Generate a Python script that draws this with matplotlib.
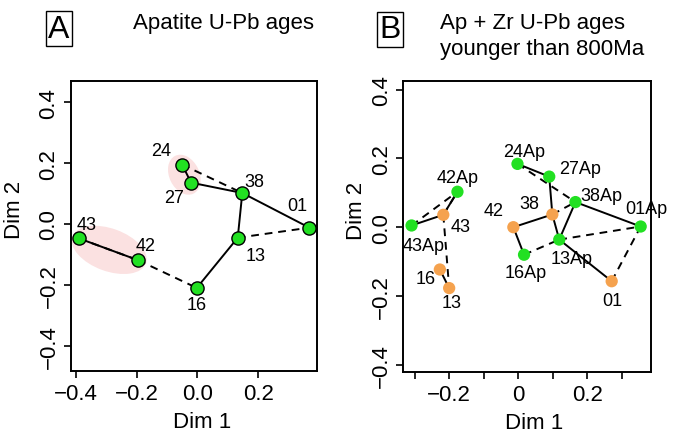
import matplotlib
matplotlib.use('Agg')
import matplotlib.pyplot as plt
from matplotlib.patches import Ellipse

plt.rcParams.update({'font.family': ['Liberation Sans', 'DejaVu Sans'], 'font.size': 14})

# --- Panel A: apatite MDS configuration ---
a_names = ['43', '42', '16', '13', '01', '38', '27', '24']
a_x = [-0.391, -0.195, -0.002, 0.133, 0.369, 0.148, -0.021, -0.050]
a_y = [-0.047, -0.119, -0.210, -0.045, -0.012, 0.102, 0.136, 0.195]
a_solid = [('43', '42'), ('16', '13'), ('13', '38'), ('38', '01'), ('27', '38'), ('24', '27')]
a_dashed = [('43', '42'), ('42', '16'), ('13', '01'), ('24', '38')]
# cluster ellipses: centre x, centre y, major, minor, angle
a_clusters = [(-0.043, 0.162, 0.138, 0.099, -64), (-0.2905, -0.085, 0.258, 0.140, -20)]

# --- Panel B: apatite + zircon MDS configuration ---
b_names = ['24Ap', '27Ap', '38Ap', '01Ap', '13Ap', '16Ap', '42Ap', '43Ap',
           '43', '16', '13', '42', '38', '01']
b_x = [-0.002, 0.090, 0.166, 0.355, 0.119, 0.017, -0.176, -0.309,
       -0.217, -0.227, -0.200, -0.014, 0.099, 0.271]
b_y = [0.184, 0.147, 0.073, 0.002, -0.036, -0.080, 0.103, 0.005,
       0.036, -0.123, -0.177, 0.000, 0.037, -0.157]
b_solid = [('24Ap', '27Ap'), ('27Ap', '38'), ('38Ap', '01Ap'), ('38Ap', '13Ap'),
           ('38', '42'), ('38', '13Ap'), ('42', '16Ap'), ('13Ap', '01'),
           ('43Ap', '43'), ('43', '42Ap'), ('16', '13')]
b_dashed = [('24Ap', '38Ap'), ('38', '38Ap'), ('16Ap', '13Ap'), ('13Ap', '01Ap'),
            ('01', '01Ap'), ('43Ap', '42Ap'), ('43', '42Ap'), ('43', '13')]

# label offsets in pixels (right, up)
a_off = {'43': (8, 14), '42': (7, 15), '16': (0, -17), '13': (18, -18),
         '01': (-12, 22), '38': (12, 11), '27': (-17, -15), '24': (-21, 14)}
b_off = {'24Ap': (7, 12), '27Ap': (31, 8), '38Ap': (26, 7), '01Ap': (6, 18),
         '13Ap': (12, -19), '16Ap': (2, -18), '42Ap': (0, 14), '43Ap': (12, -20),
         '43': (17, -12), '16': (-14, -9), '13': (2, -14), '42': (-20, 17),
         '38': (-23, 11), '01': (1, -19)}

GREEN = '#22e022'
ORANGE = '#f5a24e'

fig = plt.figure(figsize=(6.78, 4.35), dpi=100)
axA = fig.add_axes([0.1043, 0.1455, 0.3627, 0.666])
axB = fig.add_axes([0.5948, 0.1432, 0.3649, 0.6676])


def style(ax):
    for s in ax.spines.values():
        s.set_linewidth(1.4)
    ax.tick_params(length=5, width=1.2, labelsize=16)
    ax.tick_params(axis='x', pad=4)
    ax.tick_params(axis='y', pad=3)
    for lab in ax.get_yticklabels():
        lab.set_rotation(90)
        lab.set_va('center')
    ax.set_xlabel('Dim 1', fontsize=16)
    ax.set_ylabel('Dim 2', fontsize=16)


def draw_edges(ax, names, xs, ys, solid, dashed):
    idx = {n: i for i, n in enumerate(names)}
    for a, b in solid:
        ax.plot([xs[idx[a]], xs[idx[b]]], [ys[idx[a]], ys[idx[b]]], color='black', lw=1.4, zorder=2)
    for a, b in dashed:
        ax.plot([xs[idx[a]], xs[idx[b]]], [ys[idx[a]], ys[idx[b]]], color='black', lw=1.4,
                ls=(0, (4, 3)), zorder=2)


# ---- A ----
for cx, cy, w, h, ang in a_clusters:
    axA.add_patch(Ellipse((cx, cy), w, h, angle=ang, facecolor='#fbe1e1', edgecolor='none', zorder=1))
draw_edges(axA, a_names, a_x, a_y, a_solid, a_dashed)
axA.scatter(a_x, a_y, s=90, c=GREEN, edgecolors='black', linewidths=1.0, zorder=3)
for n, x, y in zip(a_names, a_x, a_y):
    axA.annotate(n, (x, y), xytext=a_off[n], textcoords='offset pixels',
                 ha='center', va='center', fontsize=13)
axA.set_xlim(-0.4175, 0.393)
axA.set_ylim(-0.482, 0.47)
axA.set_xticks([-0.4, -0.2, 0.0, 0.2])
axA.set_xticklabels(['\u22120.4', '\u22120.2', '0.0', '0.2'])
axA.set_yticks([-0.4, -0.2, 0.0, 0.2, 0.4])
axA.set_yticklabels(['\u22120.4', '\u22120.2', '0.0', '0.2', '0.4'])
style(axA)
axA.xaxis.set_label_coords(0.533, -0.14)
axA.yaxis.set_label_coords(-0.185, 0.558)

# ---- B ----
draw_edges(axB, b_names, b_x, b_y, b_solid, b_dashed)
cols = [GREEN if n.endswith('Ap') else ORANGE for n in b_names]
axB.scatter(b_x, b_y, s=78, c=cols, edgecolors='none', zorder=3)
for n, x, y in zip(b_names, b_x, b_y):
    axB.annotate(n, (x, y), xytext=b_off[n], textcoords='offset pixels',
                 ha='center', va='center', fontsize=13)
axB.set_xlim(-0.333, 0.384)
axB.set_ylim(-0.42, 0.424)
axB.set_xticks([-0.3, -0.2, -0.1, 0.0, 0.1, 0.2, 0.3])
axB.set_xticklabels(['', '\u22120.2', '', '0', '', '0.2', ''])
axB.set_yticks([-0.4, -0.2, 0.0, 0.2, 0.4])
axB.set_yticklabels(['\u22120.4', '\u22120.2', '0.0', '0.2', '0.4'])
style(axB)
axB.xaxis.set_label_coords(0.53, -0.14)
axB.yaxis.set_label_coords(-0.145, 0.558)

# ---- panel letters and titles ----
box = dict(boxstyle='square,pad=0.08', facecolor='white', edgecolor='black', linewidth=1.0)
fig.text(59 / 678, 1 - 29.5 / 435, 'A', fontsize=23, ha='center', va='center', bbox=box)
fig.text(390 / 678, 1 - 30.5 / 435, 'B', fontsize=23, ha='center', va='center', bbox=box)
fig.text(132.7 / 678, 1 - 24 / 435, 'Apatite U-Pb ages', fontsize=16, ha='left', va='center')
fig.text(440 / 678, 1 - 23.5 / 435, 'Ap + Zr U-Pb ages', fontsize=16, ha='left', va='center')
fig.text(440 / 678, 1 - 50 / 435, 'younger than 800Ma', fontsize=16, ha='left', va='center')

fig.savefig('out.png', dpi=100)
